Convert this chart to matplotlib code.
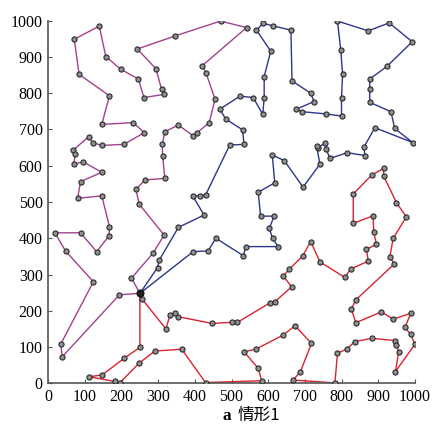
import matplotlib
matplotlib.use("Agg")
import matplotlib.pyplot as plt

depot = (250, 248)

# Route 1 (purple)
route1_x = [227, 286, 316, 248, 239, 264, 318, 312, 311, 318, 355, 396, 406, 439, 455, 430, 420,
            541, 470, 346, 243, 294, 309, 317, 261, 246, 198, 157, 139, 71, 84, 167, 146, 232,
            262, 206, 146, 121, 110, 68, 73, 70, 95, 146, 88, 80, 146, 167, 166, 132, 88, 18,
            47, 123, 34, 38, 194]
route1_y = [290, 359, 409, 494, 535, 561, 565, 627, 659, 694, 712, 682, 691, 719, 783, 857, 876,
            981, 999, 958, 922, 867, 811, 797, 788, 839, 866, 901, 985, 949, 852, 793, 714, 719,
            691, 659, 656, 664, 680, 643, 632, 604, 611, 582, 556, 510, 517, 432, 407, 363, 415, 415,
            365, 280, 108, 73, 244]

# Route 2 (blue)
route2_x = [298, 303, 355, 425, 394, 414, 429, 495, 534, 530, 484, 468, 523, 559, 585, 589, 589,
            607, 568, 586, 612, 662, 665, 716, 725, 677, 693, 757, 800, 800, 803, 798, 789, 873,
            930, 993, 925, 877, 877, 877, 935, 945, 994, 891, 861, 864, 816, 768, 759, 756, 737,
            732, 741, 695, 644, 611, 618, 573, 579, 616, 603, 612, 627, 539, 532, 457, 436, 395]
route2_y = [319, 340, 430, 464, 517, 517, 519, 657, 659, 699, 729, 756, 792, 788, 742, 786, 846,
            916, 974, 993, 986, 974, 834, 800, 777, 756, 749, 743, 737, 788, 853, 919, 999, 972,
            994, 942, 875, 839, 811, 775, 749, 703, 664, 705, 651, 628, 636, 620, 645, 664, 650,
            655, 604, 541, 614, 630, 553, 527, 461, 461, 427, 400, 377, 377, 352, 400, 365, 363]

# Route 3 (red)
route3_x = [250, 207, 147, 111, 182, 196, 247, 291, 364, 429, 582, 573, 534, 566, 641, 673, 718,
            688, 668, 782, 789, 814, 836, 882, 945, 950, 956, 947, 1000, 989, 973, 989, 941, 909,
            839, 827, 839, 944, 932, 941, 977, 950, 915, 915, 882, 832, 832, 886, 888, 895, 868,
            873, 825, 809, 741, 716, 694, 657, 641, 664, 618, 605, 516, 500, 447, 353, 346, 332,
            321, 256]
route3_y = [99, 69, 23, 18, 5, 2, 55, 89, 94, 2, 7, 41, 87, 94, 133, 159, 110,
            32, 9, 1, 83, 94, 115, 124, 118, 106, 87, 32, 107, 135, 154, 193, 177, 197,
            167, 205, 230, 329, 349, 400, 459, 498, 572, 593, 574, 522, 441, 462, 418, 384, 369,
            337, 315, 292, 335, 391, 351, 314, 296, 266, 225, 222, 168, 168, 165, 184, 193, 188,
            150, 232]

routes = [(route1_x, route1_y, "#a3408f"),
          (route2_x, route2_y, "#2b378a"),
          (route3_x, route3_y, "#d9232f")]

ticks = [0, 100, 200, 300, 400, 500, 600, 700, 800, 900, 1000]

fig = plt.figure(figsize=(4.33, 4.36), dpi=100)
ax = fig.add_axes([0.1115, 0.1209, 0.8465, 0.8316])

for xs, ys, col in routes:
    px = [depot[0]] + xs + [depot[0]]
    py = [depot[1]] + ys + [depot[1]]
    ax.plot(px, py, color=col, lw=1.0, zorder=2)
    ax.plot(xs, ys, linestyle="none", marker="o", ms=3.7, mfc="#8f8f8f",
            mec="#2a2a2a", mew=0.8, zorder=3)

ax.plot([depot[0]], [depot[1]], linestyle="none", marker="o", ms=4.8, mfc="#222222",
        mec="#111111", zorder=4)

ax.set_xlim(0, 1000)
ax.set_ylim(0, 1000)
ax.set_xticks(ticks)
ax.set_yticks(ticks)
ax.spines["top"].set_visible(False)
ax.spines["right"].set_visible(False)
for s in ("left", "bottom"):
    ax.spines[s].set_color("#555555")
    ax.spines[s].set_linewidth(1.2)
ax.tick_params(direction="in", length=3, width=0.8, color="#555555", labelsize=11.5, pad=4)
for lab in ax.get_xticklabels() + ax.get_yticklabels():
    lab.set_family("Liberation Serif")

fig.text(0.533, 0.028, "a", family="Liberation Serif", fontweight="bold", fontsize=12.5,
         ha="right", va="bottom")
fig.text(0.548, 0.028, "情形1", family=["Noto Sans CJK SC", "Liberation Serif"], fontsize=12,
         ha="left", va="bottom")

fig.savefig("out.png", dpi=100)
